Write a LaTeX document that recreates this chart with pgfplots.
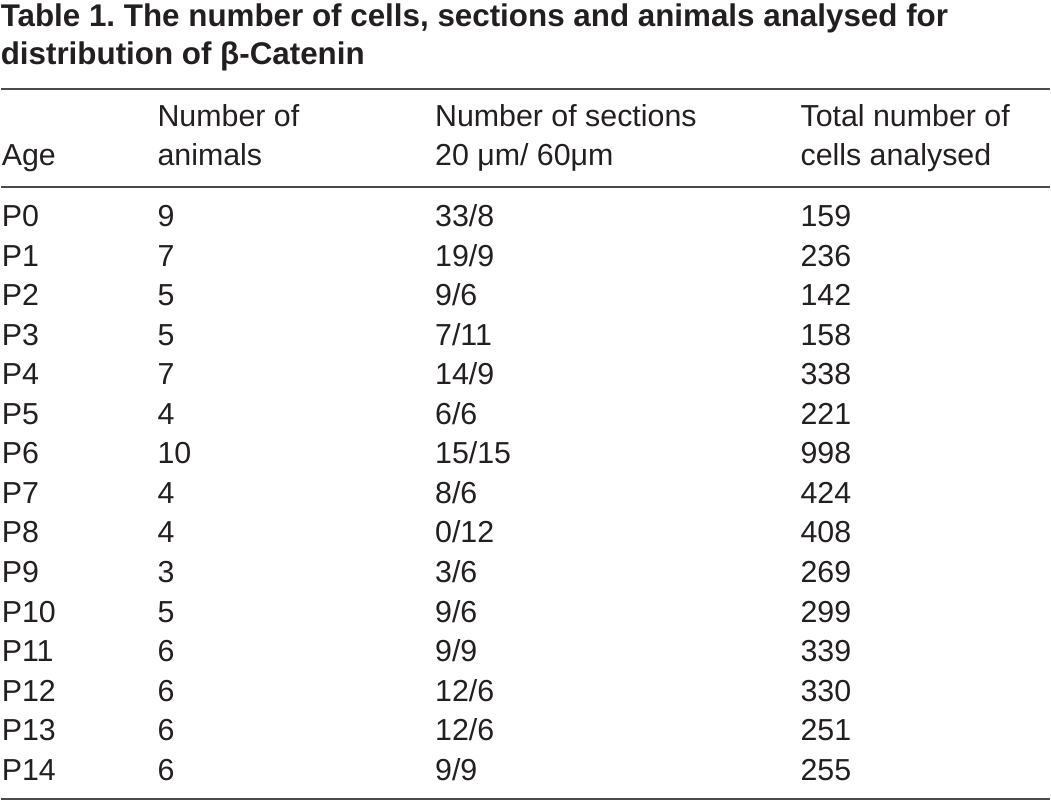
\documentclass[border=0pt]{standalone}
\usepackage{fontspec}
\setmainfont{Liberation Sans}
\usepackage{pgfplots}
\usepackage{pgfplotstable}
\pgfplotsset{compat=1.18}
\frenchspacing
\definecolor{txt}{HTML}{231F20}
\definecolor{rule}{HTML}{4A4A4A}
\pgfplotstableread{
y age animals sections total
227.0 P0 9 33/8 159
266.6 P1 7 19/9 236
306.2 P2 5 9/6 142
345.8 P3 5 7/11 158
385.4 P4 7 14/9 338
425.0 P5 4 6/6 221
464.6 P6 10 15/15 998
504.2 P7 4 8/6 424
543.8 P8 4 0/12 408
583.4 P9 3 3/6 269
623.0 P10 5 9/6 299
662.6 P11 6 9/9 339
702.2 P12 6 12/6 330
741.8 P13 6 12/6 251
781.4 P14 6 9/9 255
}\datatable
\begin{document}
\begin{tikzpicture}
\begin{axis}[
  scale only axis, width=1051bp, height=803bp,
  xmin=0, xmax=1051, ymin=0, ymax=803, y dir=reverse,
  hide axis, clip=false,
  txt/.style={draw=none, mark=none, point meta=explicit symbolic, nodes near coords,
    every node near coord/.append style={anchor=base west, inner sep=0pt, outer sep=0pt,
      font=\fontsize{30.4bp}{36bp}\selectfont\frenchspacing, text=txt}},
  ttl/.style={draw=none, mark=none, point meta=explicit symbolic, nodes near coords,
    every node near coord/.append style={anchor=base west, inner sep=0pt, outer sep=0pt,
      font=\fontsize{31.4bp}{38bp}\selectfont\bfseries\frenchspacing, text=txt}},
]
\addplot[draw=none, mark=none] coordinates {(0,0) (1051,803)};
% rules
\addplot[rule, line width=1.6bp] coordinates {(0,89) (1051,89)};
\addplot[rule, line width=1.6bp] coordinates {(0,187) (1051,187)};
\addplot[rule, line width=1.6bp] coordinates {(0,800) (1051,800)};
% title
\addplot[ttl] coordinates {(0,27) [Table 1. The number of cells, sections and animals analysed for] (0,65) [distribution of β-Catenin]};
% header
\addplot[txt] coordinates {(1,166) [Age] (157,127) [Number of] (157,166) [animals]
  (435,127) [Number of sections] (435,166) [20 μm/ 60μm]
  (801,127) [Total number of] (801,166) [cells analysed]};
% body
\addplot[txt] table[x expr=1, y=y, meta=age] {\datatable};
\addplot[txt] table[x expr=157, y=y, meta=animals] {\datatable};
\addplot[txt] table[x expr=435, y=y, meta=sections] {\datatable};
\addplot[txt] table[x expr=801, y=y, meta=total] {\datatable};
\end{axis}
\end{tikzpicture}
\end{document}
